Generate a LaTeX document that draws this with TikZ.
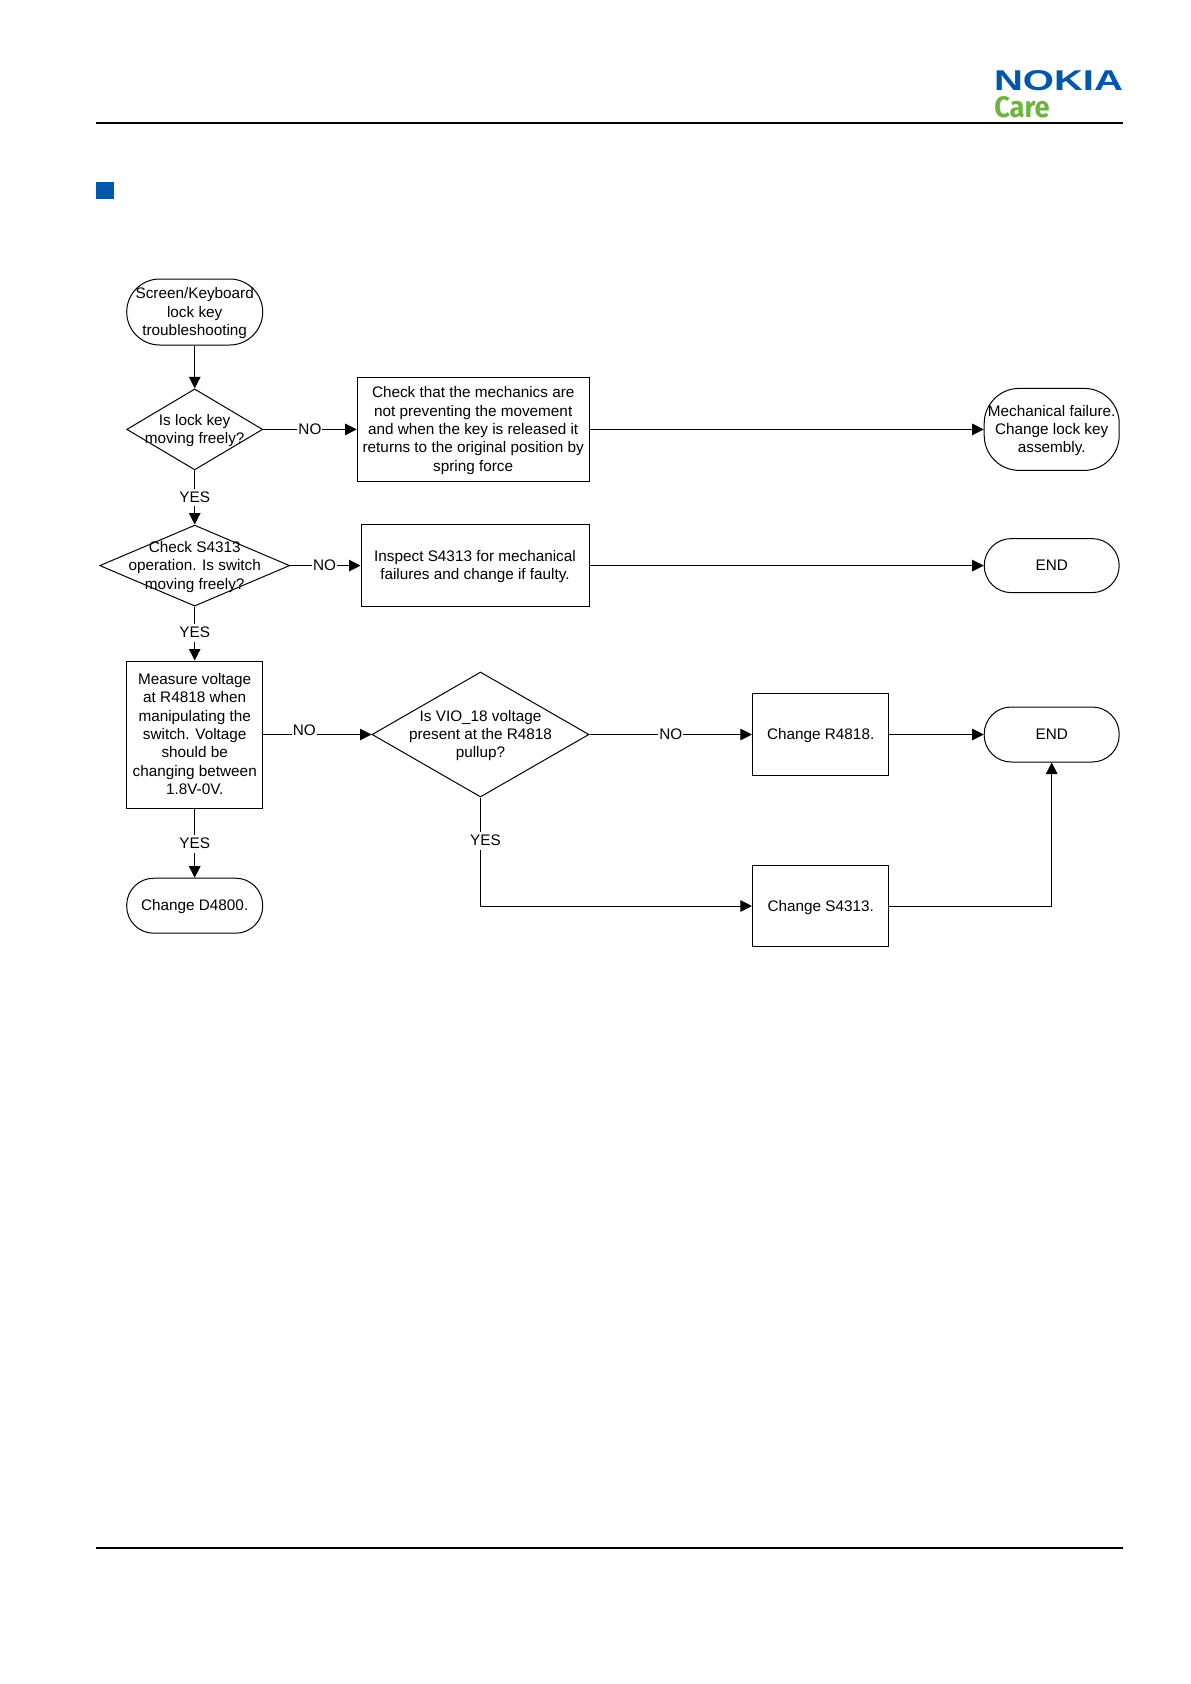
\documentclass[tikz,border=0pt]{standalone}
\usepackage{fontspec}
\setmainfont{Liberation Sans}
\newfontfamily\carefont{Fira Sans}[BoldFont={Fira Sans Bold}]
\usetikzlibrary{arrows.meta,shapes.geometric}
\definecolor{nokiablue}{HTML}{0057AB}
\definecolor{caregreen}{HTML}{6DB33F}
\tikzset{
    flow/.style={x=1pt,y=-1pt,line width=1pt,>={Triangle[length=11.5pt,width=11.5pt]},
                     font=\fontsize{15.3}{18.4}\selectfont,every node/.append style={text depth=1pt}},
    term/.style={draw,rectangle,rounded corners=27pt,minimum width=136pt,align=center,inner sep=0pt},
    stepbox/.style={draw,rectangle,align=center,inner sep=0pt},
    decide/.style={draw,diamond,inner sep=0pt,aspect=1},
    flabel/.style={fill=white,inner xsep=1pt,inner ysep=3pt},
    rule/.style={line width=2pt},
    }

\begin{document}
\begin{tikzpicture}[flow]
            \useasboundingbox (0,0) rectangle (1191,1684);

            \coordinate (h1) at (96,122.7);
            \coordinate (h2) at (1122.7,122.7);
            \coordinate (f1) at (96,1548);
            \coordinate (f2) at (1122.7,1548);
            \draw[rule] (h1) -- (h2);
            \draw[rule] (f1) -- (f2);
            \node[fill=nokiablue,minimum size=17.5pt,inner sep=0pt] (mark) at (104.8,190.5) {};
            \node[text=nokiablue,inner sep=0pt] (nokia) at (1058.5,80.7) {\resizebox{129pt}{20pt}{\bfseries NOKIA}};
            \node[text=caregreen,inner sep=0pt] (care) at (1022,107.5) {\resizebox{55.5pt}{21pt}{\carefont\bfseries Care}};

            \node[term,rounded corners=33pt,minimum height=66pt] (s0) at (194.7,312) {Screen/Keyboard\\lock key\\troubleshooting};
            \node[decide,minimum width=136pt,minimum height=81pt,label={[align=center]center:Is lock key\\moving freely?}] (d1) at (194.7,429.4) {};
            \node[stepbox,minimum width=232pt,minimum height=104pt] (c1) at (473.2,429.4) {Check that the mechanics are\\not preventing the movement\\and when the key is released it\\returns to the original position by\\spring force};
            \node[term,rounded corners=35pt,minimum width=135pt,minimum height=82pt] (e1) at (1051.7,429.4) {Mechanical failure.\\Change lock key\\assembly.};

            \node[decide,minimum width=190pt,minimum height=81pt,label={[align=center]center:Check S4313\\operation. Is switch\\moving freely?}] (d2) at (194.7,565.6) {};
            \node[stepbox,minimum width=228pt,minimum height=82pt] (c2) at (475,565.6) {Inspect S4313 for mechanical\\failures and change if faulty.};
            \node[term,minimum width=135pt,minimum height=54pt] (e2) at (1051.7,565.6) {END};

            \node[stepbox,minimum width=136pt,minimum height=147pt] (m1) at (194.7,734.5) {Measure voltage\\at R4818 when\\manipulating the\\switch. Voltage\\should be\\changing between\\1.8V-0V.};
            \node[term,minimum height=55pt] (e4) at (194.7,905.7) {Change D4800.};

            \node[decide,minimum width=217pt,minimum height=125pt,label={[align=center]center:Is VIO\_18 voltage\\present at the R4818\\pullup?}] (d3) at (480.5,734.5) {};
            \node[stepbox,minimum width=136.5pt,minimum height=81.5pt] (c3) at (820.7,734.5) {Change R4818.};
            \node[term,minimum width=135pt,minimum height=55pt] (e3) at (1051.7,734.5) {END};
            \node[stepbox,minimum width=136.5pt,minimum height=81.5pt] (c4) at (820.7,906) {Change S4313.};

            \path[->] (s0) edge[] (d1);
            \path[->] (d1) edge[] node[flabel,pos=.5] {YES} (d2);
            \path[->] (d2) edge[] node[flabel,pos=.49] {YES} (m1);
            \path[->] (m1) edge[] node[flabel,pos=.51] {YES} (e4);

            \path[->] (d1) edge[] node[flabel,pos=.5] {NO} (c1);
            \path[->] (c1) edge[] (e1);
            \path[->] (d2) edge[] node[flabel,pos=.49] {NO} (c2);
            \path[->] (c2) edge[] (e2);

            \path[->] (m1) edge[] node[flabel,pos=.38,yshift=4pt] {NO} (d3);
            \path[->] (d3) edge[] node[flabel,pos=.5] {NO} (c3);
            \path[->] (c3) edge[] (e3);
            \draw[->] (d3) |- node[flabel,pos=.2,xshift=5pt] {YES} (c4);
            \draw[->] (c4) -| (e3);
        \end{tikzpicture}
\end{document}
